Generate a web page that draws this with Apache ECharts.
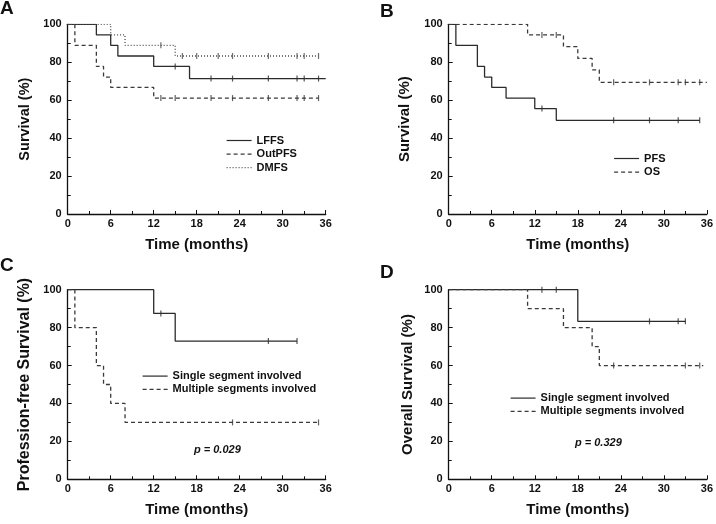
<!DOCTYPE html>
<html><head><meta charset="utf-8">
<script src="https://cdn.jsdelivr.net/npm/echarts@6/dist/echarts.min.js"></script>
<style>html,body{margin:0;padding:0;background:#fff}#c{width:716px;height:524px}</style>
</head><body><div id="c"></div>
<script>
// ---------- Data ----------
const xTicks = [0, 6, 12, 18, 24, 30, 36];
const yTicks = [0, 20, 40, 60, 80, 100];

// Panel A
const lffsT = [0, 4, 6, 7, 12, 17, 36];
const lffsS = [100, 94.4, 88.9, 83.3, 77.8, 71.4, 71.4];
const lffsCensor = [15, 20, 23, 28, 32, 33, 35];
const outpfsT = [0, 1, 4, 5, 6, 12, 35];
const outpfsS = [100, 88.9, 77.8, 72.2, 66.7, 61.1, 61.1];
const outpfsCensor = [13, 15, 20, 23, 28, 32, 33, 35];
const dmfsT = [0, 6, 8, 15, 35];
const dmfsS = [100, 94.4, 88.9, 83.3, 83.3];
const dmfsCensor = [13, 16, 18, 21, 23, 28, 32, 33, 35];

// Panel B
const pfsT = [0, 1, 4, 5, 6, 8, 12, 15, 35];
const pfsS = [100, 88.9, 77.8, 72.2, 66.7, 61.1, 55.6, 49.4, 49.4];
const pfsCensor = [13, 23, 28, 32, 35];
const osT = [0, 11, 16, 18, 20, 21, 36];
const osS = [100, 94.4, 88.2, 82.0, 76.0, 69.4, 69.4];
const osCensor = [13, 15, 23, 28, 32, 33, 35];

// Panel C
const cSingleT = [0, 12, 15, 32];
const cSingleS = [100, 87.5, 72.9, 72.9];
const cSingleCensor = [13, 28, 32];
const cMultiT = [0, 1, 4, 5, 6, 8, 35];
const cMultiS = [100, 80, 60, 50, 40, 30, 30];
const cMultiCensor = [23, 35];

// Panel D
const dSingleT = [0, 18, 33];
const dSingleS = [100, 83.3, 83.3];
const dSingleCensor = [13, 15, 28, 32, 33];
const dMultiT = [0, 11, 16, 20, 21, 35.5];
const dMultiS = [100, 90, 80, 70, 60, 60];
const dMultiCensor = [23, 33, 35];

const pValueC = 'p = 0.029';
const pValueD = 'p = 0.329';

// ---------- Helpers ----------
const FONT = 'Arial, "Liberation Sans", sans-serif';
function zip(T, S) { return T.map((t, i) => [t, S[i]]); }
function stepAt(T, S, t) { let v = S[0]; for (let i = 0; i < T.length; i++) if (T[i] <= t) v = S[i]; return v; }

const styles = {
  solid: { color: '#2b2b2b', type: 'solid' },
  dashed: { color: '#3a3a3a', type: [4, 3] },
  dotted: { color: '#4a4a4a', type: [1, 2] }
};

const series = [];
function addCurve(idx, name, T, S, censor, st) {
  series.push({
    name: name, type: 'line', step: 'end', xAxisIndex: idx, yAxisIndex: idx,
    data: zip(T, S), symbol: 'none', showSymbol: false, animation: false,
    lineStyle: { color: st.color, width: 1.3, type: st.type },
    itemStyle: { color: st.color }
  });
  series.push({
    name: name + ' censored', type: 'scatter', xAxisIndex: idx, yAxisIndex: idx,
    data: censor.map(t => [t, stepAt(T, S, t)]),
    symbol: 'rect', symbolSize: [1.2, 6], itemStyle: { color: st.color }, animation: false,
    silent: true
  });
}

addCurve(0, 'LFFS', lffsT, lffsS, lffsCensor, styles.solid);
addCurve(0, 'OutPFS', outpfsT, outpfsS, outpfsCensor, styles.dashed);
addCurve(0, 'DMFS', dmfsT, dmfsS, dmfsCensor, styles.dotted);
addCurve(1, 'PFS', pfsT, pfsS, pfsCensor, styles.solid);
addCurve(1, 'OS', osT, osS, osCensor, styles.dashed);
addCurve(2, 'Single segment involved', cSingleT, cSingleS, cSingleCensor, styles.solid);
addCurve(2, 'Multiple segments involved', cMultiT, cMultiS, cMultiCensor, styles.dashed);
addCurve(3, 'Single segment involved', dSingleT, dSingleS, dSingleCensor, styles.solid);
addCurve(3, 'Multiple segments involved', dMultiT, dMultiS, dMultiCensor, styles.dashed);

const grids = [
  { left: 67.7, top: 24.3, width: 258, height: 189.7 },
  { left: 448.7, top: 24.3, width: 258.3, height: 189.7 },
  { left: 67.7, top: 289.7, width: 258, height: 189.6 },
  { left: 448.7, top: 289.7, width: 258.3, height: 189.6 }
];
const yNames = ['Survival (%)', 'Survival (%)', 'Profession-free Survival (%)', 'Overall Survival (%)'];
const yNameSize = [14.5, 15, 16, 15];
const yNameGap = [35, 36.5, 34.7, 33.5];

const axisLine = { show: true, lineStyle: { color: '#111', width: 1.3 } };
const labelStyle = { color: '#111', fontWeight: 'bold', fontSize: 11, fontFamily: FONT };

const xAxis = grids.map((g, i) => ({
  type: 'value', gridIndex: i, min: xTicks[0], max: xTicks[xTicks.length - 1], interval: 6,
  name: 'Time (months)', nameLocation: 'middle', nameGap: 23,
  nameTextStyle: { color: '#111', fontWeight: 'bold', fontSize: 15, fontFamily: FONT },
  axisLine: axisLine, axisTick: { show: true, inside: true, length: 4, lineStyle: { color: '#111' } },
  minorTick: { show: true, splitNumber: 2, length: 3, lineStyle: { color: '#111' } },
  axisLabel: Object.assign({ margin: 4 }, labelStyle),
  splitLine: { show: false }
}));
const yAxis = grids.map((g, i) => ({
  type: 'value', gridIndex: i, min: yTicks[0], max: yTicks[yTicks.length - 1], interval: 20,
  name: yNames[i], nameLocation: 'middle', nameGap: yNameGap[i],
  nameTextStyle: { color: '#111', fontWeight: 'bold', fontSize: yNameSize[i], fontFamily: FONT },
  axisLine: axisLine, axisTick: { show: true, inside: true, length: 4, lineStyle: { color: '#111' } },
  minorTick: { show: true, splitNumber: 2, length: 3, lineStyle: { color: '#111' } },
  axisLabel: Object.assign({ margin: 6 }, labelStyle),
  splitLine: { show: false }
}));

const legendBase = {
  orient: 'vertical', itemGap: 2.6, itemWidth: 25, itemHeight: 11,
  textStyle: { color: '#111', fontWeight: 'bold', fontSize: 11, fontFamily: FONT },
  itemStyle: { opacity: 0 },
  lineStyle: { width: 1.2 },
  selectedMode: false, padding: 0
};
const legend = [
  Object.assign({}, legendBase, { left: 226, top: 135, data: ['LFFS', 'OutPFS', 'DMFS'] }),
  Object.assign({}, legendBase, { left: 613.5, top: 153, data: ['PFS', 'OS'] }),
  Object.assign({}, legendBase, { left: 142, itemGap: 2.2, top: 370.6, data: ['Single segment involved', 'Multiple segments involved'] }),
  Object.assign({}, legendBase, { left: 510, itemGap: 2.2, top: 392.6, data: ['Single segment involved', 'Multiple segments involved'] })
];

const letterStyle = { fontSize: 19, fontWeight: 'bold', fontFamily: FONT, color: '#111' };
const title = [
  { text: 'A', left: 0, top: -1, padding: 0, textStyle: letterStyle },
  { text: 'B', left: 380, top: 2, padding: 0, textStyle: letterStyle },
  { text: 'C', left: 0, top: 256, padding: 0, textStyle: letterStyle },
  { text: 'D', left: 380, top: 263, padding: 0, textStyle: letterStyle }
];

const pStyle = { fontSize: 11, fontWeight: 'bold', fontStyle: 'italic', fontFamily: FONT, fill: '#111', textAlign: 'center', textVerticalAlign: 'middle' };
const graphic = [
  { type: 'text', left: 194, top: 444.5, style: Object.assign({ text: pValueC }, pStyle) },
  { type: 'text', left: 575, top: 437.5, style: Object.assign({ text: pValueD }, pStyle) }
];

const chart = echarts.init(document.getElementById('c'), null, { renderer: 'canvas' });
chart.setOption({
  backgroundColor: '#fff', animation: false,
  title: title, grid: grids, xAxis: xAxis, yAxis: yAxis, legend: legend,
  series: series, graphic: graphic
});
</script></body></html>
